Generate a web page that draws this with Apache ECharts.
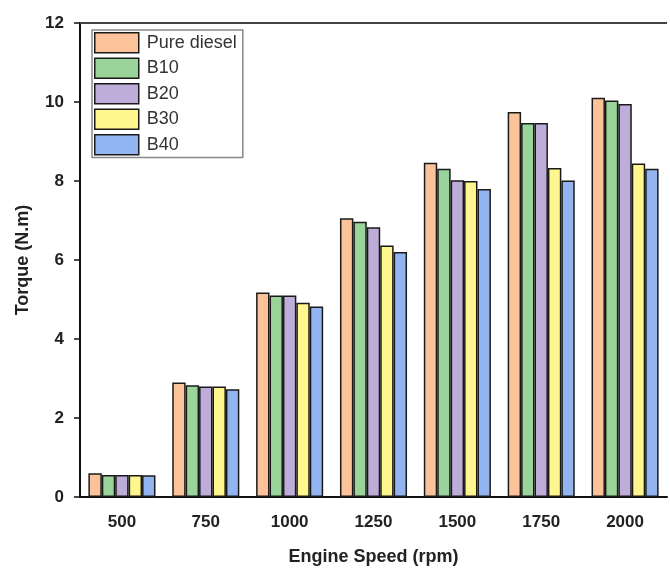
<!DOCTYPE html>
<html><head><meta charset="utf-8">
<script src="https://cdn.jsdelivr.net/npm/echarts@6/dist/echarts.min.js"></script>
<style>html,body{margin:0;padding:0;background:#fff}#c{width:670px;height:571px}</style>
</head><body><div id="c"></div>
<script>
const categories = ['500','750','1000','1250','1500','1750','2000'];
const pureDiesel = [0.60, 2.90, 5.18, 7.06, 8.46, 9.75, 10.11];
const b10 = [0.56, 2.83, 5.10, 6.97, 8.31, 9.47, 10.04];
const b20 = [0.56, 2.80, 5.10, 6.83, 8.02, 9.47, 9.95];
const b30 = [0.56, 2.80, 4.92, 6.37, 8.00, 8.33, 8.44];
const b40 = [0.55, 2.73, 4.82, 6.20, 7.80, 8.01, 8.31];
const seriesNames = ['Pure diesel','B10','B20','B30','B40'];
const colors = ['#FCC299','#9AD49A','#BEADD8','#FFF68E','#92B5F2'];
const values = [pureDiesel,b10,b20,b30,b40];
const font = 'Liberation Sans, Arial, sans-serif';
const chart = echarts.init(document.getElementById('c'));
chart.setOption({
  animation:false,
  textStyle:{fontFamily:font},
  grid:{left:80,right:3,top:23,bottom:73},
  legend:{
    orient:'vertical', left:92, top:30,
    icon:'rect',
    itemWidth:44, itemHeight:20, itemGap:4,
    padding:[2,6,2,2],
    borderColor:'#888', borderWidth:1.5,
    textStyle:{fontSize:18, color:'#333', fontFamily:font, padding:[0,0,0,3], lineHeight:20},
    itemStyle:{borderColor:'#1a1a1a', borderWidth:1.5},
    data:seriesNames
  },
  xAxis:{
    type:'category', data:categories,
    axisLine:{lineStyle:{color:'#111',width:2}},
    axisTick:{show:false},
    axisLabel:{fontSize:17, fontWeight:'bold', color:'#222', margin:17},
    name:'Engine Speed (rpm)', nameLocation:'middle', nameGap:51,
    nameTextStyle:{fontSize:18, fontWeight:'bold', color:'#222'}
  },
  yAxis:{
    type:'value', min:0, max:12, interval:2,
    axisLine:{show:true, lineStyle:{color:'#111',width:2}},
    axisTick:{show:true, length:6, lineStyle:{color:'#111',width:1.5}},
    splitLine:{show:false},
    axisLabel:{fontSize:17, fontWeight:'bold', color:'#222', margin:16},
    name:'Torque (N.m)', nameLocation:'middle', nameGap:48,
    nameTextStyle:{fontSize:18, fontWeight:'bold', color:'#222'}
  },
  series: seriesNames.map((n,i)=>({
    name:n, type:'bar', data:values[i],
    barGap:'0%', barCategoryGap:'20%',
    itemStyle:{color:colors[i], borderColor:'#1a1a1a', borderWidth:1.5}
  })).concat([{
    type:'line', data:[], markLine:{silent:true, symbol:'none', label:{show:false},
      lineStyle:{color:'#444',width:2,type:'solid'}, data:[{yAxis:12}]}
  }])
});
</script></body></html>
